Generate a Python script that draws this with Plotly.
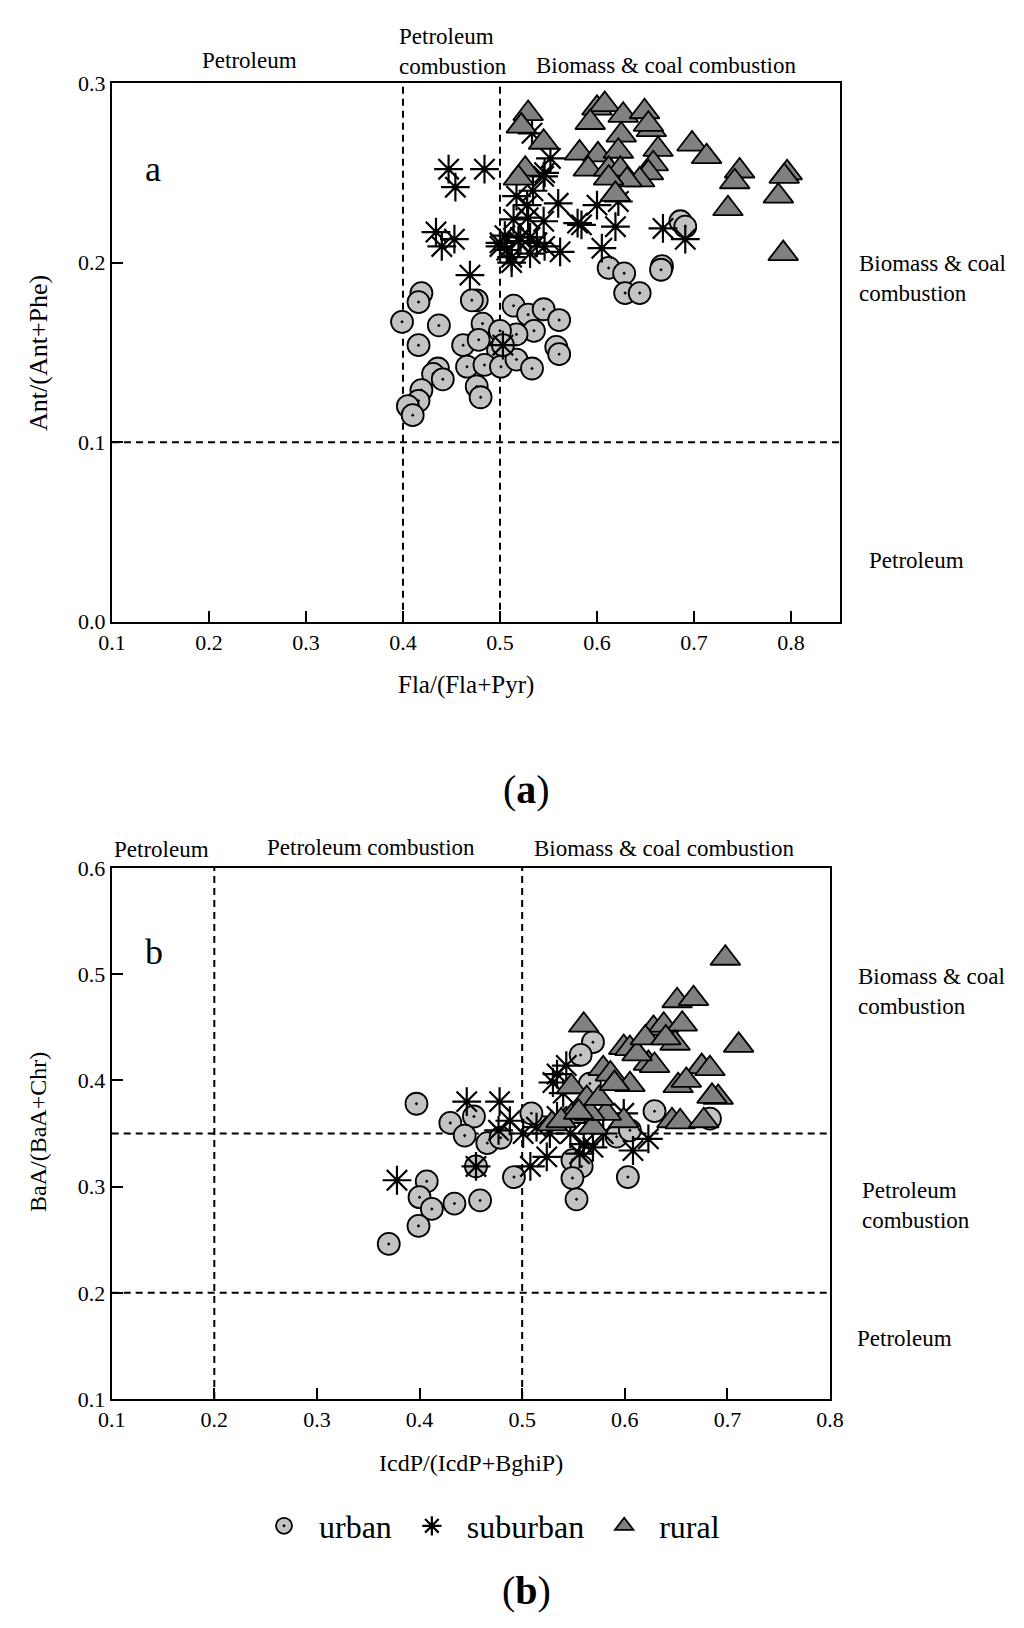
import plotly.graph_objects as go

FONT = "Liberation Serif"
W, H = 1024, 1628
PAGE_OFFSET = 8  # browser body margin around the figure

# ---------------- Panel a: Fla/(Fla+Pyr) vs Ant/(Ant+Phe) ----------------
a_urban_x = [0.419, 0.416, 0.399, 0.437, 0.416, 0.476, 0.471, 0.482, 0.462, 0.478,
             0.514, 0.529, 0.545, 0.561, 0.535, 0.517, 0.500, 0.498, 0.558, 0.561,
             0.466, 0.484, 0.501, 0.517, 0.533, 0.436, 0.431, 0.441, 0.419, 0.416,
             0.476, 0.480, 0.405, 0.410, 0.503, 0.612, 0.628, 0.629, 0.644, 0.667,
             0.666, 0.686, 0.691]
a_urban_y = [0.183, 0.178, 0.167, 0.165, 0.154, 0.179, 0.179, 0.166, 0.154, 0.157,
             0.176, 0.171, 0.174, 0.168, 0.162, 0.160, 0.162, 0.151, 0.153, 0.149,
             0.142, 0.143, 0.142, 0.146, 0.141, 0.141, 0.138, 0.135, 0.129, 0.123,
             0.131, 0.125, 0.120, 0.115, 0.154, 0.197, 0.194, 0.183, 0.183, 0.198,
             0.196, 0.223, 0.220]

a_sub_x = [0.447, 0.484, 0.454, 0.434, 0.453, 0.440, 0.469, 0.500, 0.507, 0.512,
           0.519, 0.531, 0.538, 0.546, 0.562, 0.514, 0.529, 0.545, 0.560, 0.534,
           0.546, 0.552, 0.584, 0.528, 0.517, 0.600, 0.619, 0.605, 0.622, 0.668,
           0.691, 0.533, 0.545, 0.512, 0.500, 0.521, 0.531, 0.503, 0.505, 0.580]
a_sub_y = [0.252, 0.252, 0.242, 0.217, 0.213, 0.209, 0.193, 0.211, 0.207, 0.203,
           0.212, 0.214, 0.211, 0.209, 0.206, 0.224, 0.225, 0.223, 0.233, 0.240,
           0.250, 0.258, 0.221, 0.232, 0.237, 0.232, 0.220, 0.208, 0.234, 0.219,
           0.213, 0.272, 0.248, 0.200, 0.209, 0.214, 0.205, 0.154, 0.215, 0.222]

a_rural_x = [0.529, 0.522, 0.545, 0.526, 0.519, 0.600, 0.608, 0.593, 0.627, 0.649,
             0.656, 0.653, 0.625, 0.663, 0.582, 0.601, 0.622, 0.591, 0.612, 0.624,
             0.658, 0.653, 0.644, 0.631, 0.612, 0.619, 0.698, 0.713, 0.747, 0.742,
             0.735, 0.796, 0.787, 0.792, 0.793]
a_rural_y = [0.283, 0.276, 0.267, 0.252, 0.247, 0.286, 0.288, 0.278, 0.282, 0.284,
             0.274, 0.277, 0.271, 0.263, 0.261, 0.260, 0.262, 0.252, 0.252, 0.252,
             0.255, 0.250, 0.246, 0.246, 0.247, 0.238, 0.266, 0.259, 0.251, 0.245,
             0.230, 0.250, 0.237, 0.205, 0.248]

# ---------------- Panel b: IcdP/(IcdP+BghiP) vs BaA/(BaA+Chr) ----------------
b_urban_x = [0.397, 0.430, 0.453, 0.444, 0.466, 0.479, 0.509, 0.455, 0.492, 0.407,
             0.400, 0.412, 0.434, 0.459, 0.399, 0.370, 0.569, 0.557, 0.629, 0.683,
             0.549, 0.558, 0.549, 0.603, 0.553, 0.592, 0.566, 0.605]
b_urban_y = [0.378, 0.360, 0.366, 0.348, 0.341, 0.346, 0.369, 0.319, 0.309, 0.305,
             0.290, 0.279, 0.284, 0.287, 0.263, 0.246, 0.436, 0.424, 0.371, 0.364,
             0.325, 0.319, 0.308, 0.309, 0.288, 0.347, 0.397, 0.353]

b_sub_x = [0.378, 0.446, 0.478, 0.455, 0.477, 0.488, 0.508, 0.501, 0.514, 0.527,
           0.524, 0.530, 0.543, 0.534, 0.540, 0.556, 0.569, 0.579, 0.599, 0.608,
           0.623, 0.547, 0.534, 0.560]
b_sub_y = [0.306, 0.380, 0.380, 0.319, 0.353, 0.362, 0.319, 0.350, 0.356, 0.350,
           0.328, 0.398, 0.414, 0.406, 0.388, 0.331, 0.337, 0.350, 0.369, 0.334,
           0.345, 0.350, 0.366, 0.340]

b_rural_x = [0.560, 0.548, 0.563, 0.529, 0.548, 0.579, 0.586, 0.605, 0.599, 0.605,
             0.569, 0.599, 0.582, 0.566, 0.623, 0.629, 0.628, 0.638, 0.656, 0.649,
             0.651, 0.667, 0.698, 0.675, 0.683, 0.691, 0.652, 0.646, 0.654, 0.677,
             0.711, 0.538, 0.555, 0.575, 0.590, 0.612, 0.620, 0.640, 0.660, 0.685]
b_rural_y = [0.452, 0.394, 0.383, 0.359, 0.366, 0.411, 0.406, 0.396, 0.431, 0.430,
             0.356, 0.362, 0.369, 0.369, 0.416, 0.414, 0.449, 0.452, 0.453, 0.435,
             0.475, 0.477, 0.515, 0.413, 0.411, 0.384, 0.395, 0.362, 0.361, 0.362,
             0.433, 0.362, 0.370, 0.383, 0.397, 0.425, 0.440, 0.440, 0.400, 0.385]

# Source-zone thresholds (dashed reference lines)
a_vlines = [0.4, 0.5]
a_hlines = [0.1]
b_vlines = [0.2, 0.5]
b_hlines = [0.2, 0.35]

series_names = ["urban", "suburban", "rural"]

def px(x):
    return (x - PAGE_OFFSET) / W

def py(y):
    return 1 - (y - PAGE_OFFSET) / H

urban_marker = dict(symbol="circle-dot", size=22, color="#c3c3c3",
                    line=dict(color="black", width=1.8))
sub_marker = dict(symbol="asterisk-open", size=24, color="black",
                  line=dict(color="black", width=2.2))
rural_marker = dict(symbol="triangle-up", size=26, color="#808080",
                    line=dict(color="black", width=1.8))

fig = go.Figure()
panels = [
    ("x", "y", a_urban_x, a_urban_y, a_sub_x, a_sub_y, a_rural_x, a_rural_y, True),
    ("x2", "y2", b_urban_x, b_urban_y, b_sub_x, b_sub_y, b_rural_x, b_rural_y, False),
]
for xr, yr, ux, uy, sx, sy, rx, ry, show in panels:
    fig.add_trace(go.Scatter(x=ux, y=uy, mode="markers", name=series_names[0],
                             marker=urban_marker, xaxis=xr, yaxis=yr,
                             showlegend=show, legendgroup="u"))
    fig.add_trace(go.Scatter(x=sx, y=sy, mode="markers", name=series_names[1],
                             marker=sub_marker, xaxis=xr, yaxis=yr,
                             showlegend=show, legendgroup="s"))
    fig.add_trace(go.Scatter(x=rx, y=ry, mode="markers", name=series_names[2],
                             marker=rural_marker, xaxis=xr, yaxis=yr,
                             showlegend=show, legendgroup="r"))

dash = dict(color="black", width=2, dash="7px,5px")
shapes = []
for v in a_vlines:
    shapes.append(dict(type="line", xref="x", yref="y domain", x0=v, x1=v, y0=0, y1=1, line=dash, layer="below"))
for h in a_hlines:
    shapes.append(dict(type="line", xref="x domain", yref="y", x0=0, x1=1, y0=h, y1=h, line=dash, layer="below"))
for v in b_vlines:
    shapes.append(dict(type="line", xref="x2", yref="y2 domain", x0=v, x1=v, y0=0, y1=1, line=dash, layer="below"))
for h in b_hlines:
    shapes.append(dict(type="line", xref="x2 domain", yref="y2", x0=0, x1=1, y0=h, y1=h, line=dash, layer="below"))

axis_common = dict(showgrid=False, zeroline=False, showline=True, linecolor="black",
                   linewidth=2, mirror=True, ticks="inside", ticklen=11, tickwidth=2,
                   tickcolor="black", tickfont=dict(family=FONT, size=22, color="black"),
                   tickformat=".1f", automargin=False)

fig.update_layout(
    width=W, height=H,
    margin=dict(l=0, r=0, t=0, b=0, pad=0, autoexpand=False),
    paper_bgcolor="white", plot_bgcolor="white",
    font=dict(family=FONT, color="black"),
    xaxis=dict(domain=[px(112), px(839.5)], range=[0.1, 0.85], tick0=0.1, dtick=0.1,
               anchor="y", **axis_common),
    yaxis=dict(domain=[py(621.7), py(83)], range=[0.0, 0.3], tick0=0, dtick=0.1,
               anchor="x", **axis_common),
    xaxis2=dict(domain=[px(111.7), px(830)], range=[0.1, 0.8], tick0=0.1, dtick=0.1,
                anchor="y2", **axis_common),
    yaxis2=dict(domain=[py(1399), py(868)], range=[0.1, 0.6], tick0=0.1, dtick=0.1,
                anchor="x2", **axis_common),
    shapes=shapes,
    showlegend=True,
    legend=dict(orientation="h", x=px(487), xanchor="center", y=py(1526), yanchor="middle",
                font=dict(family=FONT, size=32, color="black"), itemwidth=60,
                bgcolor="rgba(0,0,0,0)"),
)

def ann(text, x, y, size=23, xanchor="center", angle=0):
    return dict(text=text, x=px(x), y=py(y), xref="paper", yref="paper",
                xanchor=xanchor, yanchor="middle", showarrow=False, textangle=angle,
                font=dict(family=FONT, size=size, color="black"), align="left")

annotations = [
    # panel a
    ann("Petroleum", 249, 61),
    ann("Petroleum<br>combustion", 453, 52),
    ann("Biomass &amp; coal combustion", 666, 65),
    ann("a", 153, 169, size=36),
    ann("Biomass &amp; coal<br>combustion", 857, 278, xanchor="left"),
    ann("Petroleum", 867, 560, xanchor="left"),
    ann("Ant/(Ant+Phe)", 38, 353, size=26, angle=-90),
    ann("Fla/(Fla+Pyr)", 466, 685, size=25),
    ann("(<b>a</b>)", 526, 789, size=40),
    # panel b
    ann("Petroleum", 161, 849),
    ann("Petroleum combustion", 371, 847),
    ann("Biomass &amp; coal combustion", 664, 848),
    ann("b", 154, 952, size=36),
    ann("Biomass &amp; coal<br>combustion", 856, 991, xanchor="left"),
    ann("Petroleum<br>combustion", 860, 1205, xanchor="left"),
    ann("Petroleum", 855, 1338, xanchor="left"),
    ann("BaA/(BaA+Chr)", 38, 1132, size=24, angle=-90),
    ann("IcdP/(IcdP+BghiP)", 471, 1463, size=24),
    ann("(<b>b</b>)", 526, 1590, size=40),
]
fig.update_layout(annotations=annotations)

fig.write_html("out.html")
